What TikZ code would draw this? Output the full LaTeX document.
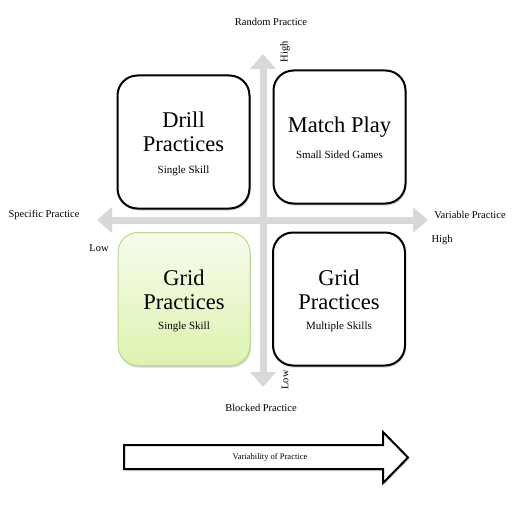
\documentclass[tikz,border=0pt]{standalone}
\usepackage{fontspec}
\setmainfont{Liberation Serif}
\usetikzlibrary{arrows.meta,shadows,shapes.arrows}
\definecolor{axisgray}{HTML}{D8D8D8}
\definecolor{greentop}{HTML}{F7FCEC}
\definecolor{greenbot}{HTML}{DDF3B0}
\definecolor{greenedge}{HTML}{B8D88A}
\begin{document}
\begin{tikzpicture}[x=1pt,y=-1pt,
  quad/.style={draw=black, line width=2pt, rounded corners=20pt, fill=white,
    minimum width=132pt, minimum height=133pt, inner sep=0pt,
    drop shadow={opacity=0.35, shadow xshift=1pt, shadow yshift=-2pt}},
  greenquad/.style={quad, draw=greenedge, line width=1pt, top color=greentop, bottom color=greenbot},
  title/.style={font=\fontsize{22.5}{23.5}\selectfont, align=center, inner sep=0pt},
  sub/.style={font=\fontsize{11}{13}\selectfont, inner sep=0pt},
  lbl/.style={font=\fontsize{10.5}{12}\selectfont, inner sep=0pt},
  axis/.style={draw=axisgray, line width=7pt, {Triangle[width=25pt,length=15pt]}-{Triangle[width=25pt,length=15pt]}}
]
\useasboundingbox (0,0) rectangle (527,513);
% axes
\coordinate (vtop) at (263,54);
\coordinate (vbot) at (263,387);
\coordinate (hleft) at (97,220);
\coordinate (hright) at (428,220);
\draw[axis] (vbot) -- (vtop);
\draw[axis] (hleft) -- (hright);
% quadrants
\node[quad] (drill) at (183.5,142) {};
\node[quad] (match) at (339.5,137) {};
\node[greenquad] (gridl) at (184,299) {};
\node[quad] (gridr) at (339,299) {};
% texts
\node[title] (drillt) at (183.5,132) {Drill\\Practices};
\node[sub] (drills) at (183.5,171) {Single Skill};
\node[title] (matcht) at (339.5,127) {Match Play};
\node[sub] (matchs) at (339.5,155) {Small Sided Games};
\node[title] (gridlt) at (184,290) {Grid\\Practices};
\node[sub] (gridls) at (184,327) {Single Skill};
\node[title] (gridrt) at (339,290) {Grid\\Practices};
\node[sub] (gridrs) at (339,327) {Multiple Skills};
% axis labels
\node[lbl] (random) at (271,22) {Random Practice};
\node[lbl, rotate=90] (high1) at (285,52) {High};
\node[lbl] (specific) at (44,215) {Specific Practice};
\node[lbl] (variable) at (470,215) {Variable Practice};
\node[lbl] (high2) at (442,240) {High};
\node[lbl] (low1) at (99,248) {Low};
\node[lbl, rotate=90] (low2) at (285,380) {Low};
\node[lbl] (blocked) at (261,408) {Blocked Practice};
% big arrow
\draw[line width=2pt, fill=white, line join=miter,
  drop shadow={opacity=0.35, shadow xshift=1pt, shadow yshift=-2pt}]
  (124,445) -- (383,445) -- (383,432) -- (408,457.5) -- (383,483) -- (383,469) -- (124,469) -- cycle;
\node[font=\fontsize{8.5}{10}\selectfont, inner sep=0pt] (variability) at (270,457) {Variability of Practice};
\end{tikzpicture}
\end{document}
